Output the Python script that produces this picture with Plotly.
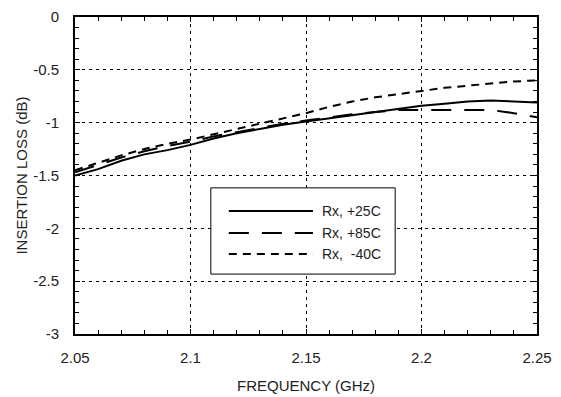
import plotly.graph_objects as go

# frequency points (GHz)
freq = [2.05, 2.06, 2.07, 2.08, 2.09, 2.10, 2.11, 2.12, 2.13, 2.14, 2.15,
        2.16, 2.17, 2.18, 2.19, 2.20, 2.21, 2.22, 2.23, 2.24, 2.25]

# insertion loss (dB)
rx_25 = [-1.50, -1.44, -1.36, -1.30, -1.26, -1.21, -1.15, -1.10, -1.06, -1.02, -0.99,
         -0.96, -0.93, -0.90, -0.87, -0.84, -0.82, -0.80, -0.79, -0.80, -0.81]
rx_85 = [-1.47, -1.40, -1.33, -1.27, -1.22, -1.18, -1.13, -1.09, -1.05, -1.01, -0.98,
         -0.95, -0.92, -0.90, -0.88, -0.88, -0.88, -0.88, -0.88, -0.91, -0.95]
rx_m40 = [-1.45, -1.38, -1.31, -1.25, -1.20, -1.16, -1.11, -1.06, -1.01, -0.96, -0.91,
          -0.85, -0.80, -0.76, -0.73, -0.70, -0.67, -0.65, -0.63, -0.61, -0.60]

names = ["Rx, +25C", "Rx, +85C", "Rx,  -40C"]
dashes = ["solid", "20px,13px", "8px,6px"]

xticks = [2.05, 2.1, 2.15, 2.2, 2.25]
xtick_text = ["2.05", "2.1", "2.15", "2.2", "2.25"]
yticks = [0, -0.5, -1, -1.5, -2, -2.5, -3]
ytick_text = ["0", "-0.5", "-1", "-1.5", "-2", "-2.5", "-3"]

fig = go.Figure()
for ys, nm, ds in zip([rx_25, rx_85, rx_m40], names, dashes):
    fig.add_trace(go.Scatter(x=freq, y=ys, mode="lines", name=nm,
                             line=dict(color="black", width=2, dash=ds),
                             showlegend=False))

# hand-made legend box (long sample lines like the original)
fig.add_shape(type="rect", xref="paper", yref="paper", x0=0.294, x1=0.693,
              y0=0.189, y1=0.461, line=dict(color="black", width=1),
              fillcolor="white", layer="above")
rows = [0.388, 0.319, 0.252]
for nm, ds, yy in zip(names, dashes, rows):
    fig.add_shape(type="line", xref="paper", yref="paper", x0=0.333, x1=0.515,
                  y0=yy, y1=yy, line=dict(color="black", width=2, dash=ds),
                  layer="above")
    fig.add_annotation(x=0.530, y=yy, xref="paper", yref="paper", text=nm,
                       showarrow=False, xanchor="left", yanchor="middle",
                       font=dict(size=14, color="#222"))

axis_common = dict(
    showline=True, linecolor="black", linewidth=2, mirror="ticks",
    ticks="inside", ticklen=5, tickcolor="black", tickwidth=1,
    showgrid=True, gridcolor="black", gridwidth=1, griddash="3px,4px",
    zeroline=False, automargin=False, ticklabeloverflow="allow",
    tickfont=dict(size=15, color="#222"),
)

fig.update_xaxes(range=[2.05, 2.25], tickvals=xticks, ticktext=xtick_text,
                 minor=dict(dtick=0.01, ticks="inside", ticklen=4,
                            tickcolor="black", showgrid=False),
                 ticklabelstandoff=9,
                 title=dict(text="FREQUENCY (GHz)", font=dict(size=15, color="#222"),
                            standoff=15),
                 **axis_common)
fig.update_yaxes(range=[-3, 0], tickvals=yticks, ticktext=ytick_text,
                 minor=dict(dtick=0.1, ticks="inside", ticklen=4,
                            tickcolor="black", showgrid=False),
                 ticklabelstandoff=11,
                 title=dict(text="INSERTION LOSS (dB)", font=dict(size=15, color="#222"),
                            standoff=2),
                 **axis_common)

# page body adds an 8px offset, so the figure is sized to fit inside the window
fig.update_layout(width=553, height=389,
                  margin=dict(l=67, r=24, t=9, b=63),
                  plot_bgcolor="white", paper_bgcolor="white",
                  font=dict(family="Liberation Sans, Arial, sans-serif"))

fig.write_html("out.html")
